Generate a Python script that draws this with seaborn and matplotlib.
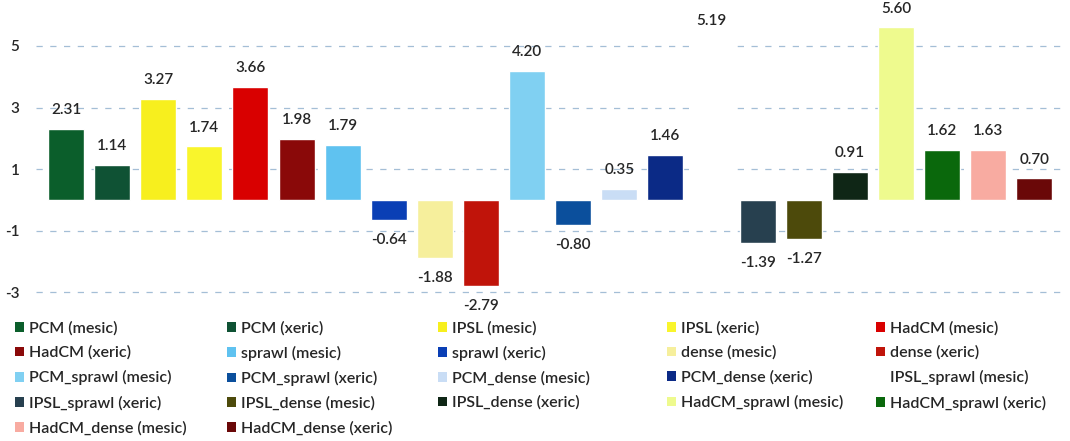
import matplotlib
matplotlib.use("Agg")
import matplotlib.pyplot as plt
import seaborn as sns
import pandas as pd
from matplotlib.patches import Patch

# Scenario names (legend order) and their projected change values
scenarios = [
    "PCM (mesic)", "PCM (xeric)", "IPSL (mesic)", "IPSL (xeric)", "HadCM (mesic)",
    "HadCM (xeric)", "sprawl (mesic)", "sprawl (xeric)", "dense (mesic)", "dense (xeric)",
    "PCM_sprawl (mesic)", "PCM_sprawl (xeric)", "PCM_dense (mesic)", "PCM_dense (xeric)",
    "IPSL_sprawl (mesic)", "IPSL_sprawl (xeric)", "IPSL_dense (mesic)", "IPSL_dense (xeric)",
    "HadCM_sprawl (mesic)", "HadCM_sprawl (xeric)", "HadCM_dense (mesic)", "HadCM_dense (xeric)",
]
changes = [
    2.31, 1.14, 3.27, 1.74, 3.66,
    1.98, 1.79, -0.64, -1.88, -2.79,
    4.20, -0.80, 0.35, 1.46,
    5.19, -1.39, -1.27, 0.91,
    5.60, 1.62, 1.63, 0.70,
]
bar_colors = [
    "#0b5e2b", "#0f5234", "#f7ef1e", "#f9f52c", "#d90000",
    "#8a0909", "#5fc2f0", "#0a3fb5", "#f6ef9c", "#c0140a",
    "#80d0f2", "#0b4f9c", "#c9ddf5", "#0b2a86",
    "#ffffff", "#27404f", "#4d4a0b", "#0f2616",
    "#eefa8e", "#0a680c", "#f8aba1", "#6a0808",
]
y_ticks = [-3, -1, 1, 3, 5]

sns.set_theme(style="white")
plt.rcParams["font.family"] = ["Lato", "DejaVu Sans"]
plt.rcParams["font.weight"] = "semibold"

TEXT = "#262626"
W, H = 1070, 441
fig = plt.figure(figsize=(W / 100, H / 100), dpi=100)
ax = fig.add_axes([36 / W, 1 - 301.6 / H, 1026 / W, 301.6 / H])

df = pd.DataFrame({"scenario": scenarios, "change": changes})
sns.barplot(
    data=df, x="scenario", y="change", hue="scenario",
    palette=dict(zip(scenarios, bar_colors)), saturation=1,
    width=0.78, legend=False, ax=ax, zorder=3,
)

# dashed horizontal guides
for t in y_ticks:
    ax.axhline(t, color="#4a7fae", lw=0.9, ls=(0, (5, 6)), alpha=0.5, zorder=1)

# value labels above / below each bar
for patch, v in zip(ax.patches, changes):
    xc = patch.get_x() + patch.get_width() / 2
    off = 13.5 if v >= 0 else -14.5
    ax.annotate(f"{v:.2f}", xy=(xc, v), xytext=(0, off), textcoords="offset points",
                ha="center", va="center", fontsize=11, color=TEXT,
                annotation_clip=False, zorder=5)

ax.set_xlim(-0.65, len(scenarios) - 0.4)
ax.set_ylim(-3.3, 6.49)
ax.set_yticks(y_ticks)
ax.set_yticklabels([str(t) for t in y_ticks])
ax.set_xticks([])
ax.set_xlabel("")
ax.set_ylabel("")
ax.tick_params(axis="y", length=0, pad=12, labelsize=11, labelcolor=TEXT)
for s in ax.spines.values():
    s.set_visible(False)

# legend: five columns, filled row by row
handles = [Patch(facecolor=c, edgecolor="none") for c in bar_colors]
col_x = [15, 227, 438, 667, 876]
ncol = 5
for c in range(ncol):
    idx = [r * ncol + c for r in range(5) if r * ncol + c < len(scenarios)]
    fig.legend(
        [handles[i] for i in idx], [scenarios[i] for i in idx],
        loc="upper left", bbox_to_anchor=(col_x[c] / W, 1 - 321 / H),
        frameon=False, fontsize=11.5, handlelength=0.55, handleheight=0.55,
        handletextpad=0.35, labelspacing=0.64, borderpad=0, borderaxespad=0,
        labelcolor=TEXT,
    )

fig.savefig("out.png", dpi=100, facecolor="white")
